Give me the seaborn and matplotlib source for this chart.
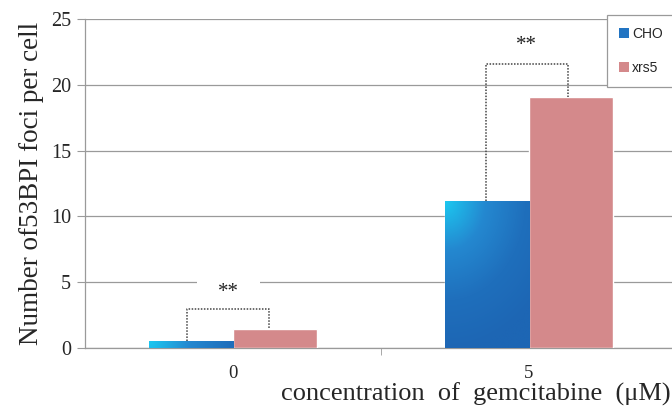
import numpy as np
import pandas as pd
import matplotlib
matplotlib.use("Agg")
import matplotlib.pyplot as plt
import seaborn as sns
from matplotlib.colors import LinearSegmentedColormap
from matplotlib.patches import Patch

categories = ["0", "5"]
cho_values = [0.55, 11.2]
xrs5_values = [1.45, 19.1]
series_names = ["CHO", "xrs5"]
y_ticks = [0, 5, 10, 15, 20, 25]

df = pd.DataFrame({
    "conc": categories * 2,
    "value": cho_values + xrs5_values,
    "line": [series_names[0]] * 2 + [series_names[1]] * 2,
})

sns.set_style("white")
plt.rcParams["font.family"] = ["Liberation Serif", "DejaVu Serif"]

fig = plt.figure(figsize=(6.72, 4.12), dpi=100)
ax = fig.add_axes([85 / 672, 64 / 412, (677 - 85) / 672, (393 - 64) / 412])

cho_color = "#2274C2"
xrs_color = "#D4898B"
sns.barplot(data=df, x="conc", y="value", hue="line", order=categories,
            hue_order=series_names, palette=[cho_color, xrs_color],
            width=0.57, saturation=1, ax=ax, legend=False, zorder=3)

ax.set_xlim(-0.5, 1.5)
ax.set_ylim(0, 25)
ax.set_yticks(y_ticks)
ax.yaxis.grid(True, color="#9a9a9a", linewidth=0.9, zorder=0)
ax.set_axisbelow(True)
for s in ["top", "right"]:
    ax.spines[s].set_visible(False)
for s in ["left", "bottom"]:
    ax.spines[s].set_color("#9a9a9a")
    ax.spines[s].set_linewidth(0.9)

ax.tick_params(axis="y", length=6, color="#9a9a9a", labelsize=14.5, pad=4, left=True)
ax.tick_params(axis="x", which="major", length=0, labelsize=13.5, pad=12)
ax.set_xticks([0.5], minor=True)
ax.tick_params(axis="x", which="minor", length=5, color="#9a9a9a", bottom=True)

ax.set_ylabel("Number of53BPI foci per cell", fontsize=19.5)
ax.yaxis.set_label_coords(-41 / 592, 0.5)
ax.set_xlabel("concentration  of  gemcitabine  (μM)", fontsize=19, ha="right")
ax.xaxis.set_label_coords((671 - 85) / 592, -35 / 329)

# gradient on CHO bars (cyan top-left corner fading to blue)
cmap = LinearSegmentedColormap.from_list("g", ["#1CC8F0", "#2488D0", "#1F6FBC", "#1D66B4"])
px_per_x = 592 / 2.0
px_per_y = 329 / 25.0
cho_patches = ax.containers[0].patches
xrs_patches = ax.containers[1].patches
for p in cho_patches:
    x0, y0 = p.get_x(), p.get_y()
    w, h = p.get_width(), p.get_height()
    wp, hp = w * px_per_x, h * px_per_y
    nx, ny = int(max(wp, 2)), int(max(hp, 2))
    xx_, yy_ = np.meshgrid(np.linspace(0, wp, nx), np.linspace(0, hp, ny))
    d = np.sqrt(xx_ ** 2 + (yy_ * 0.8) ** 2)
    g = np.clip(d / 120.0, 0, 1)
    im = ax.imshow(g, extent=(x0, x0 + w, y0, y0 + h), origin="upper",
                   cmap=cmap, aspect="auto", zorder=3.5, interpolation="bilinear",
                   vmin=0, vmax=1)
    im.set_clip_path(p)
ax.set_xlim(-0.5, 1.5)
ax.set_ylim(0, 25)

# significance brackets
bracket_tops = [2.95, 21.6]
star_y = [4.2, 23.0]
left_frac = [0.46, 0.49]
right_frac = [0.43, 0.46]
for i in range(len(categories)):
    pc, px = cho_patches[i], xrs_patches[i]
    xc = pc.get_x() + pc.get_width() * left_frac[i]
    xx = px.get_x() + px.get_width() * right_frac[i]
    ax.plot([xc, xc, xx, xx], [pc.get_height(), bracket_tops[i], bracket_tops[i], px.get_height()],
            linestyle=(0, (1, 1)), color="#444444", linewidth=1.1, zorder=4)
    kw = {}
    if i == 0:
        kw["bbox"] = dict(boxstyle="square,pad=1.0", facecolor="white", edgecolor="none")
    ax.text((xc + xx) / 2, star_y[i], "**", ha="center", va="center", fontsize=15,
            color="#222222", zorder=2, **kw)

# legend
handles = [Patch(facecolor=cho_color, edgecolor="none"), Patch(facecolor=xrs_color, edgecolor="none")]
leg = ax.legend(handles, series_names, loc="upper left",
                bbox_to_anchor=((607 - 85) / 592, (397 - 64) / 329),
                frameon=True, fancybox=False, edgecolor="#9a9a9a", framealpha=1,
                prop={"family": "Liberation Sans", "size": 10}, handlelength=0.7, handleheight=0.7,
                handletextpad=0.25, labelspacing=1.45, borderpad=0.85, borderaxespad=0)
leg.get_frame().set_linewidth(0.9)
leg.set_zorder(6)

fig.savefig("out.png", dpi=100)
